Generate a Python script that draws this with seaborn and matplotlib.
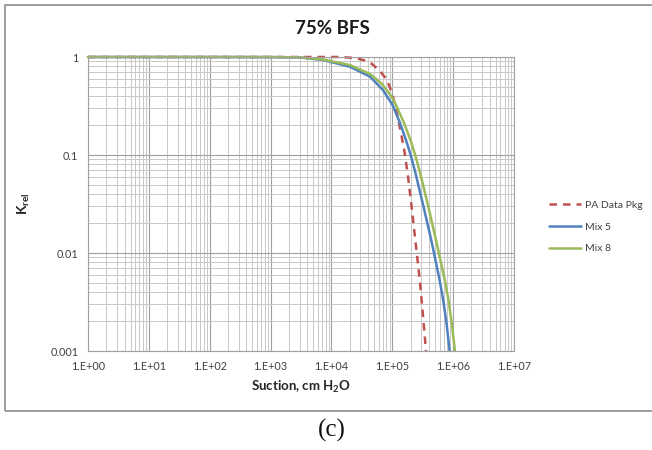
import numpy as np
import pandas as pd
import matplotlib
matplotlib.use("Agg")
import matplotlib.pyplot as plt
import seaborn as sns
from matplotlib.patches import Rectangle
from matplotlib.ticker import FixedLocator, FixedFormatter, LogLocator, NullFormatter

# Relative permeability vs. suction curves
pa_suction = [1, 10, 100, 1000, 1.38e4, 2.44e4, 3.56e4, 4.64e4, 6.28e4, 7.59e4, 8.83e4,
              1.01e5, 1.13e5, 1.27e5, 1.42e5, 1.59e5, 1.81e5, 2.07e5, 2.29e5, 2.53e5,
              2.85e5, 3.19e5, 3.58e5]
pa_krel = [1, 1, 1, 1, 1.0, 0.977, 0.921, 0.849, 0.720, 0.618, 0.518,
           0.409, 0.309, 0.222, 0.156, 0.1074, 0.0611, 0.0302, 0.0172, 0.0099,
           0.00506, 0.00233, 0.001]

mix5_suction = [1, 10, 100, 1000, 3.04e3, 7.27e3, 2.02e4, 4.31e4, 7.03e4, 1.01e5, 1.34e5,
                1.68e5, 1.99e5, 2.41e5, 3.26e5, 4.36e5, 4.86e5, 5.99e5, 6.86e5, 7.86e5, 8.74e5]
mix5_krel = [1, 1, 1, 0.998, 0.989, 0.932, 0.796, 0.630, 0.460, 0.324, 0.212,
             0.142, 0.1017, 0.065, 0.0297, 0.0136, 0.0099, 0.0053, 0.00331, 0.00184, 0.001]

mix8_suction = [1, 10, 100, 1000, 3.04e3, 7.27e3, 2.02e4, 4.31e4, 6.78e4, 9.77e4, 1.19e5,
                1.56e5, 1.99e5, 2.36e5, 2.88e5, 3.91e5, 5.22e5, 5.85e5, 7.29e5, 8.38e5,
                9.57e5, 1.07e6]
mix8_krel = [1, 1, 1, 0.999, 0.991, 0.943, 0.828, 0.671, 0.530, 0.394, 0.309,
             0.212, 0.142, 0.1017, 0.065, 0.0297, 0.0136, 0.0099, 0.0053, 0.00331,
             0.00184, 0.001]

series_names = ["PA Data Pkg", "Mix 5", "Mix 8"]
x_ticks = [1e0, 1e1, 1e2, 1e3, 1e4, 1e5, 1e6, 1e7]
x_tick_labels = ["1.E+00", "1.E+01", "1.E+02", "1.E+03", "1.E+04", "1.E+05", "1.E+06", "1.E+07"]
y_ticks = [0.001, 0.01, 0.1, 1]
y_tick_labels = ["0.001", "0.01", "0.1", "1"]

df = pd.concat([
    pd.DataFrame({"suction": pa_suction, "krel": pa_krel, "series": series_names[0]}),
    pd.DataFrame({"suction": mix5_suction, "krel": mix5_krel, "series": series_names[1]}),
    pd.DataFrame({"suction": mix8_suction, "krel": mix8_krel, "series": series_names[2]}),
], ignore_index=True)

sns.set_theme(style="white")
plt.rcParams["font.family"] = ["Lato", "DejaVu Sans"]

W, H = 652, 450
fig = plt.figure(figsize=(W / 100, H / 100), dpi=100)
fig.patch.set_facecolor("white")
ax = fig.add_axes([88 / W, 1 - 351 / H, (514 - 88) / W, (351 - 57) / H])

palette = {"PA Data Pkg": "#C0504D", "Mix 5": "#4F81BD", "Mix 8": "#9BBB59"}
dashes = {"PA Data Pkg": (3, 2.4), "Mix 5": "", "Mix 8": ""}
sns.lineplot(data=df, x="suction", y="krel", hue="series", style="series",
             hue_order=series_names, style_order=series_names,
             palette=palette, dashes=dashes, estimator=None, sort=False,
             linewidth=1.8, ax=ax, legend=True)

ax.set_xscale("log")
ax.set_yscale("log")
ax.set_xlim(1, 1e7)
ax.set_ylim(1e-3, 1)

ax.xaxis.set_major_locator(FixedLocator(x_ticks))
ax.xaxis.set_major_formatter(FixedFormatter(x_tick_labels))
ax.yaxis.set_major_locator(FixedLocator(y_ticks))
ax.yaxis.set_major_formatter(FixedFormatter(y_tick_labels))
ax.xaxis.set_minor_locator(LogLocator(base=10, subs=np.arange(2, 10), numticks=20))
ax.yaxis.set_minor_locator(LogLocator(base=10, subs=np.arange(2, 10), numticks=20))
ax.xaxis.set_minor_formatter(NullFormatter())
ax.yaxis.set_minor_formatter(NullFormatter())

ax.grid(which="major", color="#a0a0a0", linewidth=0.8)
ax.grid(which="minor", color="#c8c8c8", linewidth=0.7)
ax.set_axisbelow(True)
for side, sp in ax.spines.items():
    sp.set_color("#a0a0a0")
    sp.set_linewidth(0.8)
ax.tick_params(which="major", direction="out", length=4, width=0.8, color="#8c8c8c",
               labelsize=7.8, labelcolor="#404040", pad=3)
ax.tick_params(which="minor", length=0)
for ln in ax.get_lines():
    ln.set_clip_on(False)

ax.set_xlabel("Suction, cm H$_\\mathregular{2}$O", fontsize=9.5, fontweight="bold",
              color="#262626", labelpad=5)
ax.set_ylabel("K$_\\mathregular{rel}$", fontsize=10, fontweight="bold",
              color="#262626", labelpad=13)

handles, labels = ax.get_legend_handles_labels()
ax.legend(handles, labels, loc="center left", bbox_to_anchor=(549 / W, 1 - 227 / H),
          bbox_transform=fig.transFigure, frameon=False, fontsize=7.5,
          handlelength=3.1, handletextpad=0.35, labelspacing=1.2,
          borderpad=0, borderaxespad=0, labelcolor="#404040")

fig.text(332 / W, 1 - 28 / H, "75% BFS", ha="center", va="center",
         fontsize=13.5, fontweight="bold", color="#1a1a1a")

fig.add_artist(Rectangle((5 / W, 1 - 411 / H), 700 / W, 406 / H, fill=False,
                         edgecolor="#8c8c8c", linewidth=1.2,
                         transform=fig.transFigure))

fig.text(332 / W, 1 - 430 / H, "(c)", ha="center", va="center",
         fontsize=18, family=["Liberation Serif", "DejaVu Serif"], color="#111111")

fig.savefig("out.png", dpi=100)
